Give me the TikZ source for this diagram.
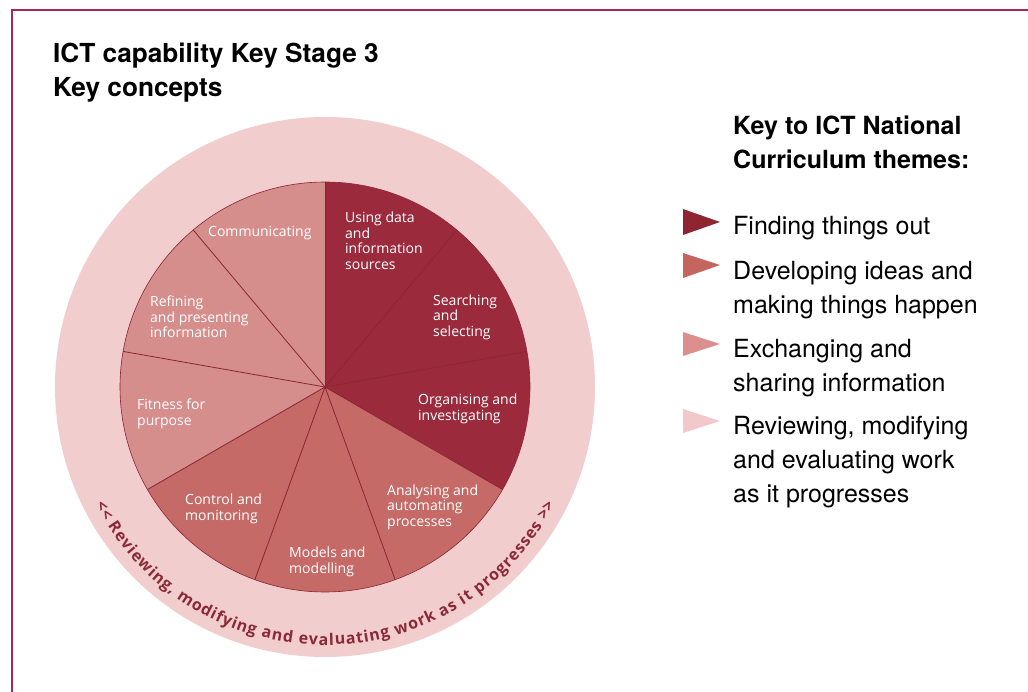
\documentclass[tikz,border=0pt]{standalone}
\usepackage{fontspec}
\setmainfont{TeX Gyre Heros}
\newfontfamily\wheelfont{Open Sans}
\usetikzlibrary{decorations.text}
\definecolor{framecol}{HTML}{A8285E}
\definecolor{darkslice}{HTML}{9B2B3C}
\definecolor{midslice}{HTML}{C56A66}
\definecolor{lightslice}{HTML}{D58E8C}
\definecolor{ringcol}{HTML}{F2CDCD}
\definecolor{divider}{HTML}{8A2434}
\definecolor{ringtext}{HTML}{8A2A38}
\definecolor{keyA}{HTML}{8E2530}
\definecolor{keyB}{HTML}{C5655F}
\definecolor{keyC}{HTML}{DC8F8F}
\definecolor{keyD}{HTML}{F2C9CB}
\newcommand\ringfmt{\wheelfont\bfseries\fontsize{16}{16}\selectfont}
\newcommand\lines[1]{\begin{tabular}[t]{@{}l@{}}#1\end{tabular}}
\begin{document}
\begin{tikzpicture}[x=1pt,y=1pt,
  wlabel/.style={font=\wheelfont\fontsize{14}{15.5}\selectfont, text=white, align=left, anchor=west, inner sep=0pt},
  keytext/.style={font=\fontsize{25}{33.5}\selectfont, anchor=base west, inner sep=0pt},
  headtext/.style={font=\bfseries\fontsize{26.2}{34}\selectfont, anchor=base west, inner sep=0pt},
  keyhead/.style={font=\bfseries\fontsize{25}{33.5}\selectfont, anchor=base west, inner sep=0pt}]
\useasboundingbox (0,-692) rectangle (1028,0);
\fill[white] (0,-692) rectangle (1028,0);
\draw[framecol, line width=2pt] (11.5,-692) -- (11.5,-10) -- (1028,-10);
% title
\node[headtext] (title) at (53,-63) {\lines{ICT capability Key Stage 3\\Key concepts}};
% wheel
\coordinate (c) at (325,-387);
\fill[ringcol] (c) circle (270);
\foreach \a/\col in {50/darkslice,10/darkslice,-30/darkslice,-70/midslice,-110/midslice,-150/midslice,170/lightslice,130/lightslice,90/lightslice}
  \fill[\col] (c) -- ++(\a:205) arc[start angle=\a, end angle=\a+40, radius=205] -- cycle;
\foreach \a in {90,50,10,-30,-70,-110,-150,170,130}
  \draw[divider, line width=0.8pt] (c) -- ++(\a:205);
\draw[divider, line width=0.6pt] (c) circle (205);
\node[wlabel] (using) at (345,-241) {Using data\\and\\information\\sources};
\node[wlabel] (search) at (433,-317) {Searching\\and\\selecting};
\node[wlabel] (organ) at (418,-409) {Organising and\\investigating};
\node[wlabel] (analys) at (387,-507) {Analysing and\\automating\\processes};
\node[wlabel] (models) at (289,-562) {Models and\\modelling};
\node[wlabel] (control) at (185,-509) {Control and\\monitoring};
\node[wlabel] (fitness) at (137,-414) {Fitness for\\purpose};
\node[wlabel] (refine) at (150,-317) {Refining\\and presenting\\information};
\node[wlabel] (comm) at (208,-233) {Communicating};
\begin{scope}[shift={(325,-387)}]
\path[decorate, decoration={text along path, text color=ringtext, text align=fit to path,
  text={|\ringfmt|<< Reviewing, modifying and evaluating work as it progresses >>}}]
  (207:258) arc[start angle=207, end angle=333, radius=258];
\end{scope}
% key
\node[keyhead] (keyhead) at (733,-135) {\lines{Key to ICT National\\Curriculum themes:}};
\fill[keyA] (683,-209) -- (720,-222) -- (683,-235) -- cycle;
\node[keytext] (k1) at (733,-235) {\lines{Finding things out}};
\fill[keyB] (683,-253) -- (720,-265) -- (683,-278) -- cycle;
\node[keytext] (k2) at (733,-280) {\lines{Developing ideas and\\making things happen}};
\fill[keyC] (683,-332) -- (720,-344) -- (683,-356) -- cycle;
\node[keytext] (k3) at (733,-358) {\lines{Exchanging and\\sharing information}};
\fill[keyD] (683,-409) -- (720,-421) -- (683,-433) -- cycle;
\node[keytext] (k4) at (733,-435) {\lines{Reviewing, modifying\\and evaluating work\\as it progresses}};
\end{tikzpicture}
\end{document}
